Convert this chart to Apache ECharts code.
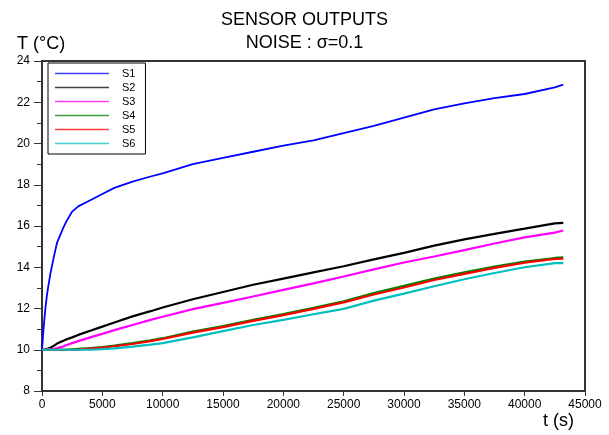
<!DOCTYPE html>
<html>
<head>
<meta charset="utf-8">
<script src="https://cdn.jsdelivr.net/npm/echarts@6/dist/echarts.min.js"></script>
<style>
html,body{margin:0;padding:0;background:#fff;}
#chart{width:609px;height:435px;}
</style>
</head>
<body>
<div id="chart"></div>
<script>
var titleLines = ["SENSOR OUTPUTS", "NOISE : σ=0.1"];
var yAxisName = "T (°C)";
var xAxisName = "t (s)";
var seriesNames = ["S1", "S2", "S3", "S4", "S5", "S6"];
var seriesColors = ["#0000ff", "#000000", "#ff00ff", "#008000", "#ff0000", "#00bfbf"];

var times = [0, 100, 200, 300, 400, 500, 700, 1000, 1250, 1500, 1750, 2000, 2500, 3000, 4000, 5000, 6000, 7500, 9000, 10000, 12500, 15000, 17500, 20000, 22500, 25000, 27500, 30000, 32500, 35000, 37500, 40000, 42500, 43200];

var s1 = [10, 10.8, 11.5, 12.1, 12.6, 13.0, 13.7, 14.55, 15.2, 15.55, 15.9, 16.2, 16.7, 16.95, 17.25, 17.55, 17.85, 18.15, 18.4, 18.55, 19.0, 19.3, 19.6, 19.9, 20.15, 20.5, 20.85, 21.25, 21.65, 21.95, 22.2, 22.4, 22.72, 22.85];
var s2 = [10, 10, 10, 10.02, 10.04, 10.06, 10.1, 10.2, 10.3, 10.37, 10.43, 10.5, 10.6, 10.72, 10.92, 11.12, 11.32, 11.62, 11.87, 12.05, 12.45, 12.8, 13.15, 13.45, 13.75, 14.05, 14.38, 14.7, 15.05, 15.35, 15.62, 15.87, 16.13, 16.15];
var s3 = [10, 10, 10, 10, 10.01, 10.02, 10.03, 10.05, 10.08, 10.12, 10.16, 10.22, 10.32, 10.42, 10.6, 10.77, 10.95, 11.2, 11.45, 11.6, 11.97, 12.27, 12.58, 12.9, 13.22, 13.55, 13.9, 14.23, 14.52, 14.83, 15.15, 15.45, 15.68, 15.78];
var s4 = [10, 10, 10, 10, 10, 10, 10, 10, 10, 10, 10, 10, 10.02, 10.04, 10.08, 10.13, 10.2, 10.32, 10.46, 10.56, 10.88, 11.15, 11.45, 11.73, 12.03, 12.35, 12.75, 13.1, 13.45, 13.75, 14.03, 14.27, 14.45, 14.48];
var s5 = [10, 10, 10, 10, 10, 10, 10, 10, 10, 10, 10, 10, 10, 10, 10.06, 10.1, 10.17, 10.28, 10.42, 10.52, 10.83, 11.1, 11.4, 11.68, 11.98, 12.3, 12.68, 13.02, 13.38, 13.68, 13.97, 14.22, 14.4, 14.42];
var s6 = [10, 10, 10, 10, 10, 10, 10, 10, 10, 10, 10, 10, 10, 10, 10, 10.03, 10.07, 10.15, 10.25, 10.32, 10.6, 10.9, 11.2, 11.45, 11.72, 11.98, 12.38, 12.72, 13.08, 13.42, 13.72, 14.0, 14.2, 14.2];

var seriesValues = [s1, s2, s3, s4, s5, s6];

var FONT = "'Liberation Sans', Arial, Helvetica, sans-serif";

function pairs(ts, vs) {
  var out = [];
  for (var i = 0; i < ts.length; i++) out.push([ts[i], vs[i]]);
  return out;
}

var chart = echarts.init(document.getElementById('chart'), null, {renderer: 'canvas'});

var series = seriesNames.map(function (name, i) {
  return {
    name: name,
    type: 'line',
    data: pairs(times, seriesValues[i]),
    showSymbol: false,
    symbol: 'none',
    animation: false,
    lineStyle: {color: seriesColors[i], width: i === 0 ? 1.8 : 2.2},
    itemStyle: {color: seriesColors[i]},
    z: 2 + i
  };
});

var option = {
  backgroundColor: '#ffffff',
  animation: false,
  textStyle: {fontFamily: FONT},
  grid: {
    left: 42, right: 24, top: 61, bottom: 44,
    show: true, borderColor: '#333333', borderWidth: 2, backgroundColor: 'transparent'
  },
  graphic: [
    {type: 'text', left: 'center', top: 11, style: {text: titleLines[0], font: '18px ' + FONT, fill: '#000', textAlign: 'center'}},
    {type: 'text', left: 'center', top: 34, style: {text: titleLines[1], font: '18px ' + FONT, fill: '#000', textAlign: 'center'}},
    {type: 'text', left: 17, top: 35, style: {text: yAxisName, font: '18px ' + FONT, fill: '#000'}},
    {type: 'text', left: 543, top: 412, style: {text: xAxisName, font: '18px ' + FONT, fill: '#000'}}
  ],
  legend: {
    orient: 'vertical',
    left: 48, top: 63,
    data: seriesNames.map(function (n, i) {
      return {name: n, icon: 'rect', itemStyle: {color: seriesColors[i], opacity: 0.75}};
    }),
    itemWidth: 54, itemHeight: 1.6, itemGap: 1,
    padding: [4, 10, 4, 7],
    borderColor: '#000', borderWidth: 1,
    backgroundColor: '#fff',
    textStyle: {fontSize: 11, lineHeight: 13, color: '#000', fontFamily: FONT, padding: [0, 0, 0, 8]},
    selectedMode: false
  },
  xAxis: {
    type: 'value', min: 0, max: 45000, interval: 5000,
    axisLine: {show: true, onZero: false, lineStyle: {color: '#333333', width: 2}},
    axisTick: {show: true, length: 5, lineStyle: {color: '#333333', width: 1}},
    axisLabel: {fontSize: 12, color: '#000', margin: 8, fontFamily: FONT, formatter: function (v) { return String(v); }},
    splitLine: {show: false}
  },
  yAxis: {
    type: 'value', min: 8, max: 24, interval: 2,
    axisLine: {show: true, onZero: false, lineStyle: {color: '#333333', width: 2}},
    axisTick: {show: true, length: 8, lineStyle: {color: '#333333', width: 1}},
    minorTick: {show: true, splitNumber: 2, length: 5, lineStyle: {color: '#333333', width: 1}},
    axisLabel: {fontSize: 12, color: '#000', margin: 12, fontFamily: FONT},
    splitLine: {show: false}
  },
  series: series
};

chart.setOption(option);
</script>
</body>
</html>
